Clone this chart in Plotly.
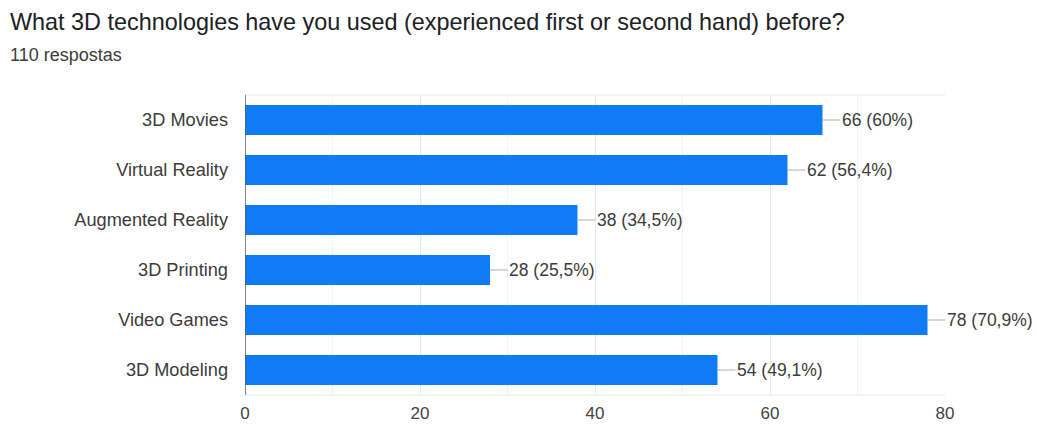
import plotly.graph_objects as go

categories = ["3D Movies", "Virtual Reality", "Augmented Reality", "3D Printing", "Video Games", "3D Modeling"]
counts = [66, 62, 38, 28, 78, 54]
pct_labels = ["60%", "56,4%", "34,5%", "25,5%", "70,9%", "49,1%"]
tick_vals = [0, 20, 40, 60, 80]

FONT = "Liberation Sans, Arial, sans-serif"

fig = go.Figure()
fig.add_trace(go.Bar(
    x=counts, y=categories, orientation="h",
    marker=dict(color="#0f7bf5", line=dict(width=0)),
    width=0.6, hoverinfo="skip",
))

annotations = []
for c, v, p in zip(categories, counts, pct_labels):
    annotations.append(dict(
        x=v, y=c, xref="x", yref="y",
        text=f"{v} ({p})", showarrow=True, arrowhead=0, arrowwidth=1,
        arrowcolor="#b0b0b0", ax=18, ay=0, xanchor="left", borderpad=0,
        font=dict(family=FONT, size=17.5, color="#3c3c3c"),
    ))

annotations.append(dict(
    text="What 3D technologies have you used (experienced first or second hand) before?",
    xref="paper", yref="paper", x=-237/700, y=1 + 73/300, xanchor="left", yanchor="middle",
    showarrow=False, font=dict(family=FONT, size=23.4, color="#202124"),
))
annotations.append(dict(
    text="110 respostas",
    xref="paper", yref="paper", x=-237/700, y=1 + 40/300, xanchor="left", yanchor="middle",
    showarrow=False, font=dict(family=FONT, size=18, color="#3c3c3c"),
))

fig.update_layout(
    width=1038, height=426,
    margin=dict(l=245, r=93, t=95, b=31),
    paper_bgcolor="white", plot_bgcolor="white",
    showlegend=False,
    annotations=annotations,
    bargap=0.4,
    xaxis=dict(
        range=[0, 80], tickvals=tick_vals, showgrid=True, gridcolor="#e8e8e8", gridwidth=1,
        minor=dict(dtick=10, showgrid=True, gridcolor="#f3f3f3"),
        zeroline=False, showline=False, ticks="", ticklen=0, ticklabelstandoff=6,
        tickfont=dict(family=FONT, size=17, color="#444444"),
        mirror=False, fixedrange=True, automargin=False,
    ),
    yaxis=dict(
        autorange="reversed", showgrid=False, zeroline=False,
        showline=False, ticks="", ticklabelstandoff=16, automargin=False,
        tickfont=dict(family=FONT, size=18.2, color="#3c3c3c"),
    ),
    shapes=[
        dict(type="line", xref="x", yref="paper", x0=0, x1=0, y0=0, y1=1,
             line=dict(color="#5f5f5f", width=1.5)),
        dict(type="line", xref="paper", yref="paper", x0=0, x1=1, y0=1, y1=1,
             line=dict(color="#e8e8e8", width=1), layer="below"),
        dict(type="line", xref="paper", yref="paper", x0=0, x1=1, y0=0, y1=0,
             line=dict(color="#e8e8e8", width=1), layer="below"),
    ],
)

fig.write_html("out.html")
